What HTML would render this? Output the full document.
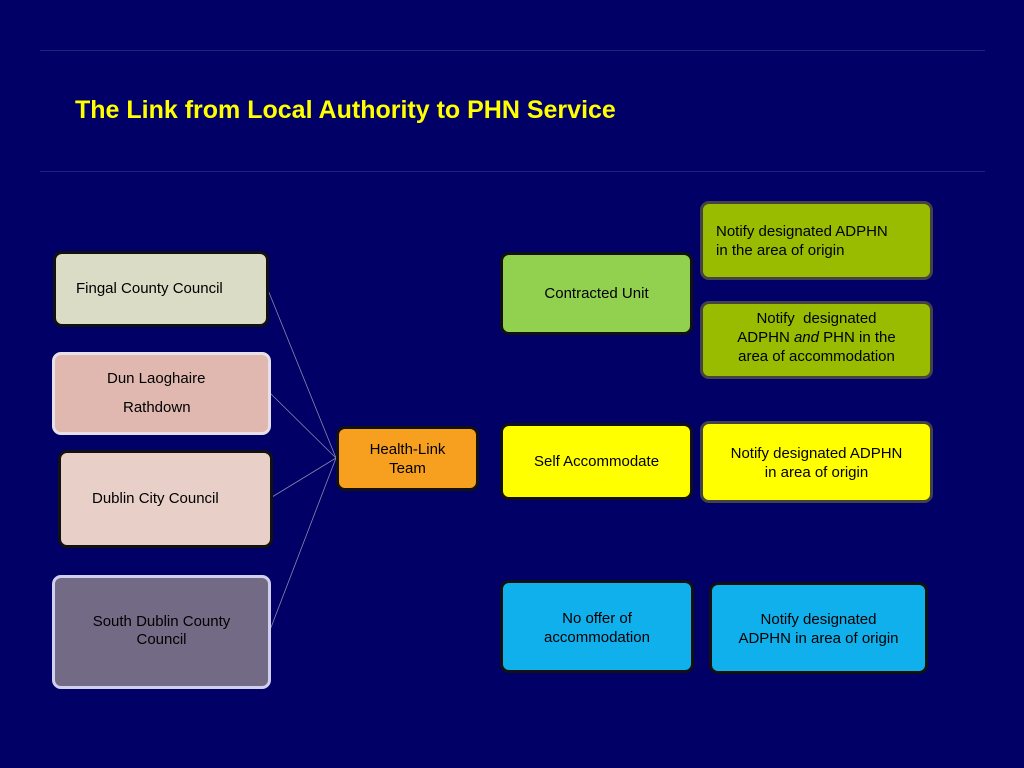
<!DOCTYPE html>
<html><head><style>
body{margin:0;width:1024px;height:768px;background:#000066;overflow:hidden;position:relative;font-family:"Liberation Sans",sans-serif;}
.b{position:absolute;box-sizing:border-box;border-radius:9px;border:3px solid #111;color:#000;font-size:15px;}
.t{position:absolute;font-size:15px;color:#000;white-space:nowrap;line-height:19px;}
.c{text-align:center;}
.hr{position:absolute;left:40px;width:945px;height:1px;background:#22227a;}
</style></head><body>
<div class="hr" style="top:50px"></div>
<div class="hr" style="top:171px"></div>
<div style="position:absolute;left:75px;top:96px;font-size:25px;font-weight:bold;color:#ffff00;">The Link from Local Authority to PHN Service</div>
<svg width="1024" height="768" style="position:absolute;left:0;top:0">
<g stroke="#8888aa" stroke-width="0.8" fill="none">
<line x1="268" y1="290" x2="336" y2="458"/>
<line x1="270" y1="393" x2="336" y2="458"/>
<line x1="272" y1="497" x2="336" y2="458"/>
<line x1="270" y1="630" x2="336" y2="458"/>
</g></svg>
<div class="b" style="left:53px;top:251px;width:216px;height:76px;background:#dadcc6;"></div>
<div class="t" style="left:76px;top:279px">Fingal County Council</div>
<div class="b" style="left:52px;top:352px;width:219px;height:83px;background:#e0b8b0;border-color:#e8e0e8;"></div>
<div class="t" style="left:107px;top:369px">Dun Laoghaire</div>
<div class="t" style="left:123px;top:398px">Rathdown</div>
<div class="b" style="left:58px;top:450px;width:215px;height:98px;background:#e8d0c8;"></div>
<div class="t" style="left:92px;top:489px">Dublin City Council</div>
<div class="b" style="left:52px;top:575px;width:219px;height:114px;background:#736b85;border-color:#d0d0ee;"></div>
<div class="t c" style="left:52px;width:219px;top:613px;line-height:18px">South Dublin County<br>Council</div>
<div class="b" style="left:336px;top:426px;width:143px;height:65px;background:#f7a020;"></div>
<div class="t c" style="left:336px;width:143px;top:440px;line-height:19px">Health-Link<br>Team</div>
<div class="b" style="left:500px;top:252px;width:193px;height:83px;background:#92d050;"></div>
<div class="t c" style="left:500px;width:193px;top:284px">Contracted Unit</div>
<div class="b" style="left:700px;top:201px;width:233px;height:79px;background:#99bb00;border-color:#444;"></div>
<div class="t" style="left:716px;top:222px">Notify designated ADPHN<br>in the area of origin</div>
<div class="b" style="left:700px;top:301px;width:233px;height:78px;background:#99bb00;border-color:#444;"></div>
<div class="t c" style="left:700px;width:233px;top:309px">Notify&nbsp; designated<br>ADPHN <i>and</i> PHN in the<br>area of accommodation</div>
<div class="b" style="left:500px;top:423px;width:193px;height:77px;background:#ffff00;"></div>
<div class="t c" style="left:500px;width:193px;top:452px">Self Accommodate</div>
<div class="b" style="left:700px;top:421px;width:233px;height:82px;background:#ffff00;border-color:#444;"></div>
<div class="t c" style="left:700px;width:233px;top:444px">Notify designated ADPHN<br>in area of origin</div>
<div class="b" style="left:500px;top:580px;width:194px;height:93px;background:#10b0ec;"></div>
<div class="t c" style="left:500px;width:194px;top:609px">No offer of<br>accommodation</div>
<div class="b" style="left:709px;top:582px;width:219px;height:92px;background:#10b0ec;"></div>
<div class="t c" style="left:709px;width:219px;top:610px">Notify designated<br>ADPHN in area of origin</div>
</body></html>
